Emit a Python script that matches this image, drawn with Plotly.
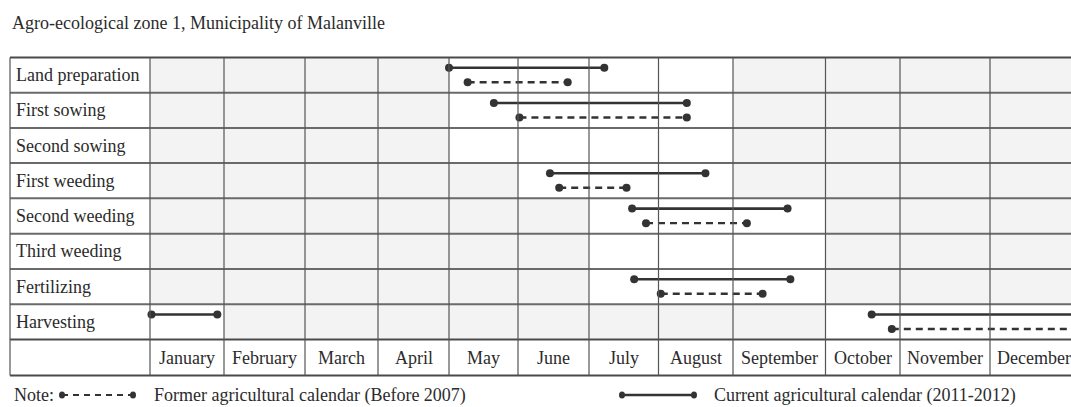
import numpy as np
import plotly.graph_objects as go

# ---------------- data ----------------
title = "Agro-ecological zone 1, Municipality of Malanville"
activities = ["Land preparation", "First sowing", "Second sowing", "First weeding",
              "Second weeding", "Third weeding", "Fertilizing", "Harvesting"]
months = ["January", "February", "March", "April", "May", "June", "July",
          "August", "September", "October", "November", "December"]

# periods in month units (0 = 1 January, 12 = 31 December)
current_activity = ["Land preparation", "First sowing", "First weeding", "Second weeding",
                    "Fertilizing", "Harvesting", "Harvesting"]
current_start = [4.00, 4.65, 5.45, 6.62, 6.65, 9.62, 0.02]
current_end = [6.22, 7.38, 7.63, 8.59, 8.62, 12.0, 0.91]

former_activity = ["Land preparation", "First sowing", "First weeding", "Second weeding",
                   "Fertilizing", "Harvesting"]
former_start = [4.27, 5.02, 5.58, 6.82, 7.03, 9.89]
former_end = [5.70, 7.38, 6.54, 8.15, 8.32, 12.0]

# months (indices) shown unshaded in each row
active_months = {
    "Land preparation": [4, 5, 6, 7],
    "First sowing": [4, 5, 6, 7],
    "Second sowing": [4, 5, 6, 7],
    "First weeding": [5, 6, 7],
    "Second weeding": [6, 7, 8],
    "Third weeding": [6, 7, 8],
    "Fertilizing": [6, 7, 8],
    "Harvesting": [0, 9, 10, 11],
}

legend_former = "Former agricultural calendar (Before 2007)"
legend_current = "Current agricultural calendar (2011-2012)"

# ---------------- layout (table geometry in px) ----------------
W, H = 1071, 407
label_left = 10
month_edges = [150, 224, 305, 378, 449, 518, 589, 658.5, 733, 825.5, 900, 990, 1078]
row_edges = [57.5, 92.8, 128.0, 163.0, 198.3, 233.8, 269.0, 304.3, 339.5, 375.5]
solid_off, dash_off = 0.29, 0.70

FONT = "Liberation Serif, Times New Roman, serif"
FS = 18
TXT = "#2b2b2b"
INK = "#333333"


def mx(m):
    return np.interp(np.asarray(m, dtype=float), np.arange(13), month_edges)


def ry(name, frac):
    i = activities.index(name)
    return row_edges[i] + frac * (row_edges[i + 1] - row_edges[i])


fig = go.Figure()
shapes = []
annotations = []

# cell shading
for i, act in enumerate(activities):
    for j in range(12):
        fill = "#ffffff" if j in active_months[act] else "#f3f3f3"
        shapes.append(dict(type="rect", xref="x", yref="y", x0=month_edges[j], x1=month_edges[j + 1],
                           y0=row_edges[i], y1=row_edges[i + 1], fillcolor=fill, line_width=0, layer="below"))

# horizontal rules
for k, y in enumerate(row_edges):
    col = "#6a6a6a" if 0 < k < len(row_edges) - 2 else "#4a4a4a"
    shapes.append(dict(type="line", xref="x", yref="y", x0=label_left, x1=W + 10, y0=y, y1=y,
                       line=dict(color=col, width=2)))
# vertical rules
for x in [label_left] + month_edges:
    shapes.append(dict(type="line", xref="x", yref="y", x0=x, x1=x, y0=row_edges[0], y1=row_edges[-1],
                       line=dict(color="#555555", width=1.2)))

# current (solid) periods
for act, s, e in zip(current_activity, current_start, current_end):
    y = ry(act, solid_off)
    fig.add_trace(go.Scatter(x=mx([s, e]), y=[y, y], mode="lines+markers",
                             line=dict(color=INK, width=2.6),
                             marker=dict(color=INK, size=8, symbol="circle"),
                             showlegend=False, hoverinfo="skip"))
# former (dashed) periods
for act, s, e in zip(former_activity, former_start, former_end):
    y = ry(act, dash_off)
    fig.add_trace(go.Scatter(x=mx([s, e]), y=[y, y], mode="lines+markers",
                             line=dict(color=INK, width=2.4, dash="7px,5px"),
                             marker=dict(color=INK, size=8, symbol="circle"),
                             showlegend=False, hoverinfo="skip"))

# row labels
for i, act in enumerate(activities):
    annotations.append(dict(x=14, y=(row_edges[i] + row_edges[i + 1]) / 2, xref="x", yref="y",
                            text=act, showarrow=False, xanchor="left", yanchor="middle",
                            font=dict(family=FONT, size=FS, color=TXT)))
# month labels
for j, m in enumerate(months):
    annotations.append(dict(x=(month_edges[j] + month_edges[j + 1]) / 2, y=(row_edges[-2] + row_edges[-1]) / 2,
                            xref="x", yref="y", text=m, showarrow=False, xanchor="center", yanchor="middle",
                            font=dict(family=FONT, size=FS, color=TXT)))
# title
annotations.append(dict(x=10, y=23, xref="x", yref="y", text=title, showarrow=False,
                        xanchor="left", yanchor="middle", font=dict(family=FONT, size=FS, color=TXT)))

# legend (note)
ly = 395
annotations.append(dict(x=12, y=ly, xref="x", yref="y", text="Note:", showarrow=False,
                        xanchor="left", yanchor="middle", font=dict(family=FONT, size=FS, color=TXT)))
annotations.append(dict(x=152, y=ly, xref="x", yref="y", text=legend_former, showarrow=False,
                        xanchor="left", yanchor="middle", font=dict(family=FONT, size=FS, color=TXT)))
annotations.append(dict(x=712, y=ly, xref="x", yref="y", text=legend_current, showarrow=False,
                        xanchor="left", yanchor="middle", font=dict(family=FONT, size=FS, color=TXT)))
shapes.append(dict(type="line", xref="x", yref="y", x0=62, x1=133, y0=ly, y1=ly,
                   line=dict(color=INK, width=2, dash="6px,5px")))
shapes.append(dict(type="line", xref="x", yref="y", x0=622, x1=694, y0=ly, y1=ly,
                   line=dict(color=INK, width=2.4)))
for cx in (62, 133, 622, 694):
    shapes.append(dict(type="circle", xref="x", yref="y", x0=cx - 3, x1=cx + 3, y0=ly - 3.5, y1=ly + 3.5,
                       fillcolor=INK, line_width=0))

fig.update_layout(
    width=W, height=H, margin=dict(l=0, r=0, t=0, b=0),
    paper_bgcolor="white", plot_bgcolor="white",
    xaxis=dict(range=[0, W], visible=False, fixedrange=True),
    yaxis=dict(range=[H, 0], visible=False, fixedrange=True),
    shapes=shapes, annotations=annotations,
)
fig.write_html("out.html", config={"displayModeBar": False},
               post_script="document.body.style.margin='0';document.body.style.overflow='hidden';")
